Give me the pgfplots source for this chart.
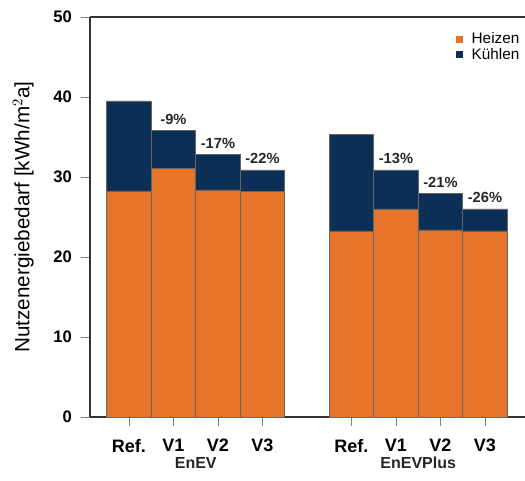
\documentclass[border=0pt]{standalone}
\usepackage{pgfplots}
\pgfplotsset{compat=1.18}
\usepackage{pgfplotstable}
\usepackage{fontspec}
\setmainfont{Liberation Sans}
\definecolor{heiz}{HTML}{E6732A}
\definecolor{kuehl}{HTML}{0C2F55}
\pgfplotstableread{
x heat cool tot lab
0 28.25 11.25 39.5 {}
1 31.1 4.7 35.8 -9\%
2 28.4 4.4 32.8 -17\%
3 28.2 2.7 30.9 -22\%
5 23.25 12.05 35.3 {}
6 26.0 4.9 30.9 -13\%
7 23.4 4.56 27.96 -21\%
8 23.25 2.75 26.0 -26\%
}\data
\pgfplotsset{common/.style={scale only axis, width=326.25pt, height=300pt,
  xmin=-0.876, xmax=8.9, ymin=0, ymax=50, clip=false}}
\begin{document}
\begin{tikzpicture}
\begin{axis}[
  common,
  ybar stacked, bar width=1,
  axis x line*=box, axis y line*=left,
  xtick={0,1,2,3,5,6,7,8},
  xticklabels={Ref.,V1,V2,V3,Ref.,V1,V2,V3},
  ytick={0,10,20,30,40,50},
  tick align=outside,
  major tick length=7pt,
  tick style={gray, line width=0.6pt},
  xtick pos=bottom, ytick pos=left,
  /pgf/number format/assume math mode=true,
  yticklabel style={font=\bfseries\fontsize{12.5}{14}\selectfont, xshift=-3pt},
  xticklabel style={font=\bfseries\fontsize{13.5}{15}\selectfont, yshift=-6pt},
  axis line style={line width=0.8pt, black!80, -},
  ylabel={Nutzenergiebedarf [kWh/m$^{2}$a]},
  ylabel style={at={([xshift=-50pt]rel axis cs:0,0.5)}, anchor=center, rotate=0,
    font=\fontsize{15.5}{17}\selectfont},
  legend style={draw=none, fill=none, at={(rel axis cs:1,0.975)}, anchor=north east,
    font=\fontsize{11.5}{13}\selectfont, row sep=-2pt, inner sep=2pt},
  legend cell align=left,
  legend image code/.code={\path[draw=none,fill=none] (0pt,0pt) -- (10pt,0pt); \fill[#1,draw=none] (0pt,-2.6pt) rectangle (5.2pt,2.6pt);},
]
\addplot+[fill=heiz, draw=black!60, line width=0.4pt] table[x=x,y=heat] {\data};
\addlegendentry{Heizen}
\addplot+[fill=kuehl, draw=black!60, line width=0.4pt] table[x=x,y=cool] {\data};
\addlegendentry{Kühlen}
\node[font=\bfseries\fontsize{12}{14}\selectfont, black!85] at (axis cs:1.5,0) [yshift=-34.5pt] {EnEV};
\node[font=\bfseries\fontsize{12}{14}\selectfont, black!85] at (axis cs:6.5,0) [yshift=-34.5pt] {EnEVPlus};
\end{axis}
\begin{axis}[common, hide axis]
\addplot[draw=none, mark=none, nodes near coords, point meta=explicit symbolic,
  every node near coord/.append style={font=\bfseries\fontsize{11}{13}\selectfont, black!85, anchor=south, yshift=1pt}]
  table[x=x,y=tot,meta=lab] {\data};
\end{axis}
\pgfresetboundingbox
\useasboundingbox ([xshift=-67.5pt,yshift=-48pt]current axis.south west) rectangle ([yshift=12.75pt]current axis.north east);
\end{tikzpicture}
\end{document}
